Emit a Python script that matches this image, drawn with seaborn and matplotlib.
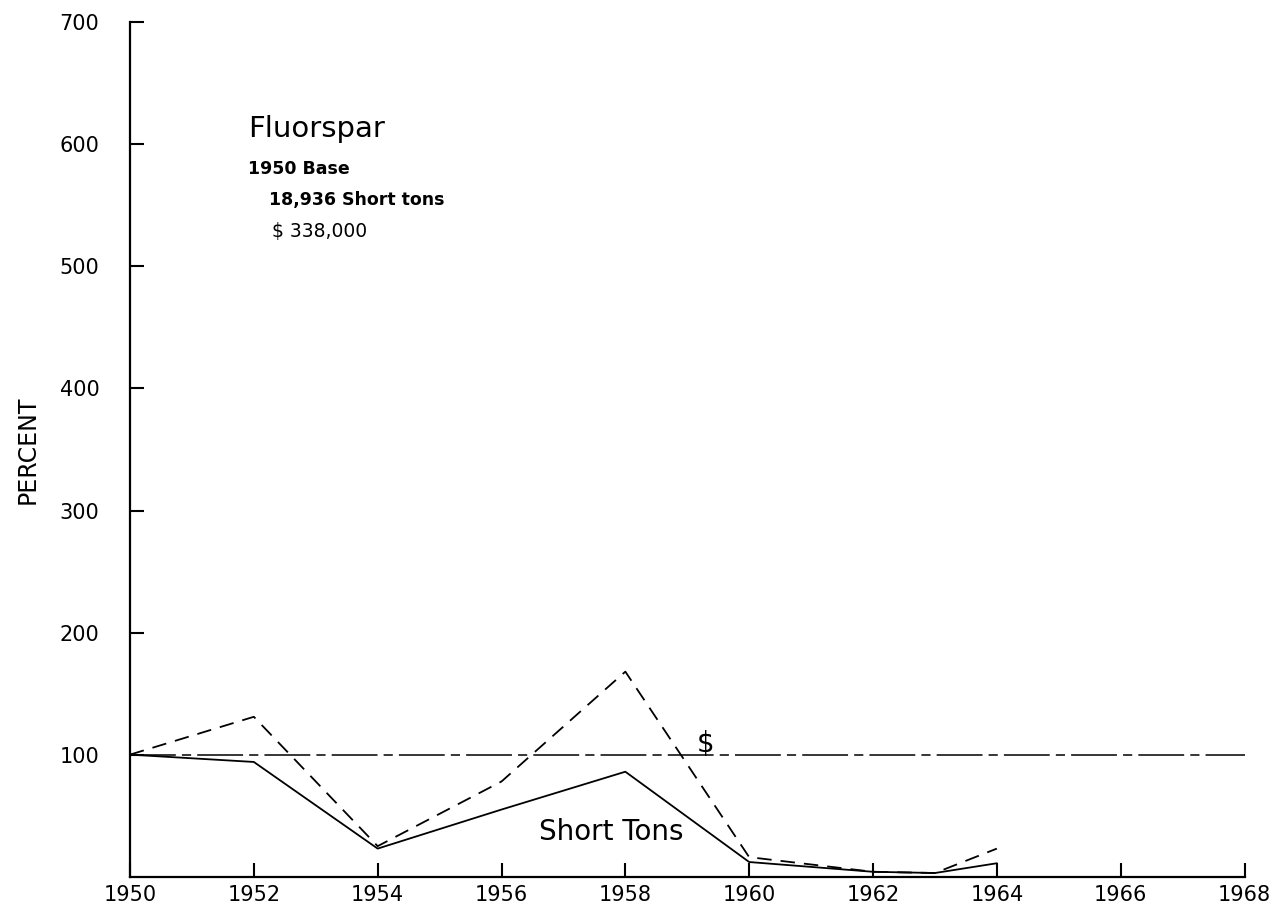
import matplotlib
matplotlib.use("Agg")
import matplotlib.pyplot as plt
import seaborn as sns
import pandas as pd

# values (percent of 1950 base)
years = [1950, 1952, 1954, 1956, 1958, 1960, 1962, 1963, 1964]
dollars = [100, 131, 25, 78, 168, 16, 4, 3, 23]
short_tons = [100, 94, 23, 55, 86, 12, 4, 3, 11]
base_years = [1950, 1968]
base_pct = [100, 100]

x_ticks = list(range(1950, 1969, 2))
y_ticks = [100, 200, 300, 400, 500, 600, 700]

sns.set_style("white")
plt.rcParams['font.family'] = ['DejaVu Sans']
plt.rcParams['text.color'] = 'black'
plt.rcParams['axes.labelcolor'] = 'black'

df = pd.DataFrame({"year": years, "dollars": dollars, "tons": short_tons})
base = pd.DataFrame({"year": base_years, "pct": base_pct})

fig = plt.figure(figsize=(12.87, 9.05), dpi=100)
ax = fig.add_axes([0.101, 0.0313, 0.866, 0.944])

sns.lineplot(data=base, x="year", y="pct", ax=ax, color="black", lw=1.1,
             linestyle=(0, (30, 4, 6, 4)))
sns.lineplot(data=df, x="year", y="dollars", ax=ax, color="black", lw=1.3,
             linestyle=(0, (8, 5)))
sns.lineplot(data=df, x="year", y="tons", ax=ax, color="black", lw=1.3)

ax.set_xlim(1950, 1968)
ax.set_ylim(0, 700)
ax.set_xticks(x_ticks)
ax.set_xticklabels([str(t) for t in x_ticks])
ax.set_yticks(y_ticks)
ax.set_yticklabels([str(t) for t in y_ticks])
ax.tick_params(axis="both", direction="in", length=10, width=1.5,
               labelsize=15, colors="black", pad=6, bottom=True, left=True)
ax.tick_params(axis="y", pad=22)
for s in ["top", "right"]:
    ax.spines[s].set_visible(False)
for s in ["left", "bottom"]:
    ax.spines[s].set_linewidth(1.6)
    ax.spines[s].set_color("black")

ax.set_xlabel("")
ax.set_ylabel("PERCENT", fontsize=17, labelpad=14)

ax.text(1951.9, 606, "Fluorspar", fontsize=21)
ax.text(1951.9, 576, "1950 Base", fontsize=12.5, fontweight="bold")
ax.text(1952.25, 550, "18,936 Short tons", fontsize=12.5, fontweight="bold")
ax.text(1952.3, 524, "$ 338,000", fontsize=13.5)
ax.text(1959.3, 102, "$", fontsize=20, ha="center")
ax.text(1956.6, 30, "Short Tons", fontsize=20)

fig.savefig("out.png", dpi=100)
